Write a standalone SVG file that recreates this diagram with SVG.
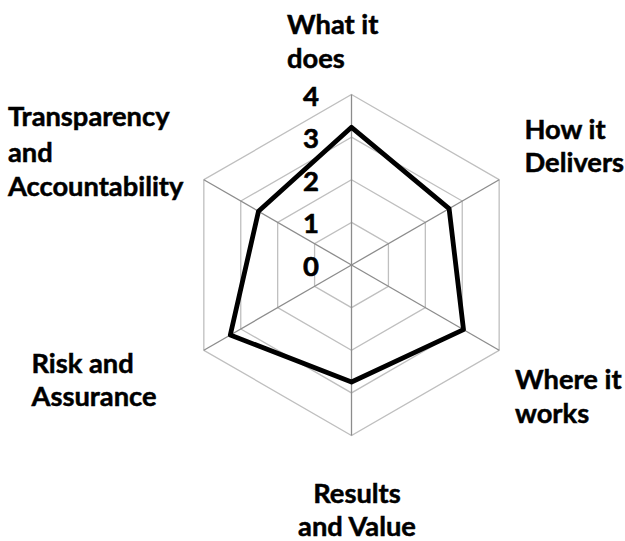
<svg xmlns="http://www.w3.org/2000/svg" width="625" height="541" viewBox="0 0 625 541">
<style>
.ring{fill:none;stroke:#bfbfbf;stroke-width:1.3}
.spoke{fill:none;stroke:#8c8c8c;stroke-width:1.3}
.data{fill:none;stroke:#000;stroke-width:4.8;stroke-linejoin:round}
.lbl{font-family:Lato,"Open Sans","Liberation Sans",sans-serif;font-weight:bold;font-size:27.3px;fill:#000;stroke:#000;stroke-width:0.5}
.num{font-family:Lato,"Open Sans","Liberation Sans",sans-serif;font-weight:bold;font-size:27.5px;fill:#000;stroke:#000;stroke-width:0.6;text-anchor:end}
</style>
<rect width="625" height="541" fill="#fff"/>
<g id="grid">
<polygon class="ring" points="351.5,94.5 499.16,179.75 499.16,350.25 351.5,435.5 203.84,350.25 203.84,179.75"/>
<polygon class="ring" points="351.5,137.13 462.24,201.06 462.24,328.94 351.5,392.88 240.76,328.94 240.76,201.06"/>
<polygon class="ring" points="351.5,179.75 425.33,222.38 425.33,307.63 351.5,350.25 277.67,307.63 277.67,222.38"/>
<polygon class="ring" points="351.5,222.38 388.41,243.69 388.41,286.31 351.5,307.63 314.59,286.31 314.59,243.69"/>
</g>
<g id="connectors">
<line class="spoke" x1="351.5" y1="265" x2="351.5" y2="94.5"/>
<line class="spoke" x1="351.5" y1="265" x2="499.16" y2="179.75"/>
<line class="spoke" x1="351.5" y1="265" x2="499.16" y2="350.25"/>
<line class="spoke" x1="351.5" y1="265" x2="351.5" y2="435.5"/>
<line class="spoke" x1="351.5" y1="265" x2="203.84" y2="350.25"/>
<line class="spoke" x1="351.5" y1="265" x2="203.84" y2="179.75"/>
</g>
<g id="series">
<polygon class="data" points="351.5,127.3 449.1,208.65 463.5,329.65 351.5,382 230.3,335 258.5,211.3"/>
</g>
<g id="axis-values">
<text class="num" x="319" y="105.5">4</text>
<text class="num" x="319" y="148.1">3</text>
<text class="num" x="319" y="190.8">2</text>
<text class="num" x="319" y="233.4">1</text>
<text class="num" x="319" y="276">0</text>
</g>
<g id="what-it-does">
<text class="lbl" x="287" y="34.3">What it</text>
<text class="lbl" x="287" y="68.3">does</text>
</g>
<g id="how-it-delivers">
<text class="lbl" x="524.5" y="139.3">How it</text>
<text class="lbl" x="524.5" y="172">Delivers</text>
</g>
<g id="where-it-works">
<text class="lbl" x="515" y="389.3">Where it</text>
<text class="lbl" x="515" y="423">works</text>
</g>
<g id="results-and-value">
<text class="lbl" x="357" y="503.3" text-anchor="middle">Results</text>
<text class="lbl" x="357" y="536" text-anchor="middle">and Value</text>
</g>
<g id="risk-and-assurance">
<text class="lbl" x="31.5" y="372.7">Risk and</text>
<text class="lbl" x="31.5" y="406">Assurance</text>
</g>
<g id="transparency-and-accountability">
<text class="lbl" x="8" y="126">Transparency</text>
<text class="lbl" x="8" y="161.7">and</text>
<text class="lbl" x="8" y="196">Accountability</text>
</g>
</svg>
